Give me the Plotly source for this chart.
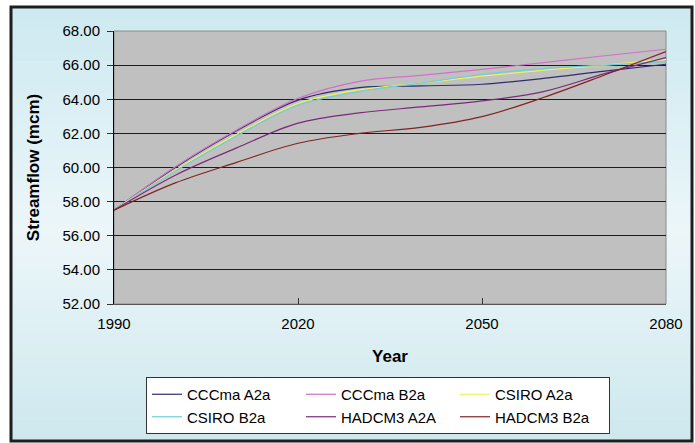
import plotly.graph_objects as go

# Projected streamflow (million cubic metres) by scenario, decadal values
years = [1990, 2000, 2010, 2020, 2030, 2040, 2050, 2060, 2070, 2080]
cccma_a2a = [57.5, 60.0, 62.15, 63.95, 64.68, 64.78, 64.88, 65.22, 65.65, 66.05]
cccma_b2a = [57.5, 60.05, 62.2, 64.05, 65.05, 65.4, 65.75, 66.15, 66.55, 66.93]
csiro_a2a = [57.5, 59.85, 61.95, 63.75, 64.55, 64.95, 65.35, 65.7, 66.0, 66.34]
csiro_b2a = [57.5, 59.8, 61.85, 63.65, 64.45, 64.95, 65.45, 65.8, 66.0, 66.2]
hadcm3_a2a = [57.5, 59.55, 61.15, 62.6, 63.2, 63.55, 63.9, 64.45, 65.5, 66.44]
hadcm3_b2a = [57.5, 59.1, 60.3, 61.42, 62.0, 62.35, 62.98, 64.1, 65.42, 66.79]

series = [
    ("CCCma A2a", cccma_a2a, "#2c2c72"),
    ("CCCma B2a", cccma_b2a, "#d070c8"),
    ("CSIRO A2a", csiro_a2a, "#f2f25a"),
    ("CSIRO B2a", csiro_b2a, "#6cced6"),
    ("HADCM3 A2A", hadcm3_a2a, "#7a2a7a"),
    ("HADCM3 B2a", hadcm3_b2a, "#842222"),
]

W, H = 695, 443
L, R, T, B = 114, 666, 31, 304  # plot area in pixels

def px(x):
    return (x - L) / (R - L)

def py(y):
    return (B - y) / (B - T)

fig = go.Figure()
for name, vals, col in series:
    fig.add_trace(go.Scatter(
        x=years, y=vals, name=name, mode="lines",
        line=dict(color=col, width=1.2, shape="spline", smoothing=1),
    ))

# soft cyan background inside the outer frame
stops = [(7, (205, 233, 240)), (120, (220, 240, 245)), (230, (236, 246, 249)),
         (330, (222, 240, 244)), (441, (205, 232, 238))]
shapes = []
n = 40
fy0, fy1 = 7, 441
for i in range(n):
    ya = fy0 + (fy1 - fy0) * i / n
    yb = fy0 + (fy1 - fy0) * (i + 1) / n
    ym = (ya + yb) / 2
    for (s0, c0), (s1, c1) in zip(stops[:-1], stops[1:]):
        if s0 <= ym <= s1:
            t = (ym - s0) / (s1 - s0)
            c = tuple(int(round(a + (b - a) * t)) for a, b in zip(c0, c1))
            break
    shapes.append(dict(type="rect", xref="paper", yref="paper", layer="below",
                       x0=px(11), x1=px(692), y0=py(yb + 0.5), y1=py(ya),
                       fillcolor="rgb(%d,%d,%d)" % c, line=dict(width=0)))
# plot area fill and its frame
shapes.append(dict(type="rect", xref="paper", yref="paper", layer="below",
                   x0=0, x1=1, y0=0, y1=1, fillcolor="#c0c0c0",
                   line=dict(color="#8a8a8a", width=1)))
# outer chart frame
shapes.append(dict(type="rect", xref="paper", yref="paper", layer="above",
                   x0=px(11), x1=px(692), y0=py(441), y1=py(7),
                   fillcolor="rgba(0,0,0,0)", line=dict(color="#1e1e1e", width=3)))

font = "Liberation Sans, Arial, sans-serif"
fig.update_layout(
    width=W, height=H,
    margin=dict(l=L, r=W - R, t=T, b=H - B, autoexpand=False),
    paper_bgcolor="white", plot_bgcolor="#c0c0c0",
    shapes=shapes,
    font=dict(family=font, size=15, color="black"),
    showlegend=True,
    legend=dict(
        orientation="h", x=px(146), y=py(434), xanchor="left", yanchor="bottom",
        bgcolor="white", bordercolor="#333333", borderwidth=1,
        font=dict(family=font, size=15, color="black"),
        entrywidth=109, entrywidthmode="pixels", itemwidth=30,
        traceorder="normal",
    ),
    xaxis=dict(
        range=[1990, 2080], tickvals=[1990, 2020, 2050, 2080],
        ticks="inside", ticklen=6, tickcolor="#333333",
        showgrid=False, zeroline=False,
        showline=True, linecolor="#555555", linewidth=1,
        ticklabelstandoff=6,
        title=dict(text="<b>Year</b>", font=dict(size=17), standoff=19),
    ),
    yaxis=dict(
        range=[52, 68], dtick=2, tickformat=".2f",
        ticks="outside", ticklen=6, tickcolor="#333333",
        showgrid=True, gridcolor="#1c1c1c", gridwidth=1, zeroline=False,
        showline=True, linecolor="black", linewidth=1,
        ticklabelstandoff=4,
        title=dict(text="<b>Streamflow (mcm)</b>", font=dict(size=17), standoff=18),
    ),
)

fig.write_html("out.html")
